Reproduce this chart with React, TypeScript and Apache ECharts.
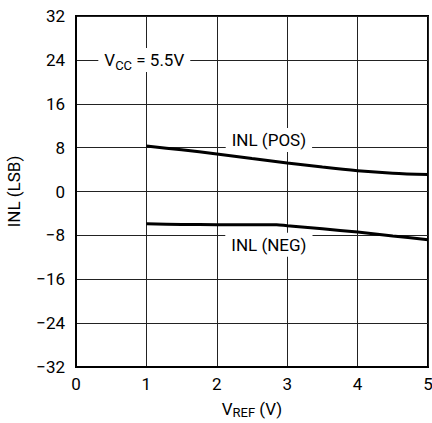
import React, { useEffect, useRef } from "react";
import * as echarts from "echarts";

const xTicks = [0, 1, 2, 3, 4, 5];
const yTicks = [-32, -24, -16, -8, 0, 8, 16, 24, 32];
const posX = [1, 1.5, 2, 2.5, 3, 3.5, 4, 4.5, 5];
const posY = [8.3, 7.6, 6.85, 6.0, 5.2, 4.45, 3.8, 3.35, 3.1];
const negX = [1, 1.5, 2, 2.5, 2.85, 3, 3.5, 4, 4.5, 5];
const negY = [-5.9, -6.0, -6.05, -6.05, -6.05, -6.25, -6.8, -7.4, -8.1, -8.8];
const labels = [
  { text: "{a|V}{s|CC}{a| = 5.5V}", x: 0.97, y: 24 },
  { text: "{a|INL (POS)}", x: 2.74, y: 9.4 },
  { text: "{a|INL (NEG)}", x: 2.74, y: -9.7 },
];

const FONT = "Roboto, 'Liberation Sans', Arial, sans-serif";
const FS = 17;

export default function App() {
  const ref = useRef<HTMLDivElement>(null);
  useEffect(() => {
    const chart = echarts.init(ref.current!, null, { renderer: "svg" });
    const textStyle = { fontFamily: FONT, fontSize: FS, color: "#000" };
    const richA = { fontFamily: FONT, fontSize: FS, verticalAlign: "middle", lineHeight: 24 };
    const richS = { fontFamily: FONT, fontSize: 13, verticalAlign: "bottom", lineHeight: 14 };
    chart.setOption({
      animation: false,
      backgroundColor: "#fff",
      grid: {
        left: 76,
        top: 16,
        width: 352,
        height: 351,
        show: true,
        borderColor: "#000",
        borderWidth: 2,
        backgroundColor: "transparent",
        containLabel: false,
        outerBoundsMode: "none",
      },
      xAxis: {
        type: "value",
        min: 0,
        max: 5,
        interval: 1,
        axisLine: { show: true, onZero: false, lineStyle: { color: "#000", width: 2 } },
        axisTick: { show: false },
        axisLabel: { ...textStyle, margin: 8, formatter: (v: number) => String(v) },
        splitLine: { show: true, lineStyle: { color: "#222", width: 1 } },
        name: "{a|V}{s|REF}{a| (V)}",
        nameLocation: "middle",
        nameGap: 31,
        nameTextStyle: {
          rich: {
            a: { ...richA, lineHeight: 21, color: "#000" },
            s: { ...richS, color: "#000" },
          },
        },
      },
      yAxis: {
        type: "value",
        min: -32,
        max: 32,
        interval: 8,
        axisLine: { show: true, onZero: false, lineStyle: { color: "#000", width: 2 } },
        axisTick: { show: false },
        axisLabel: {
          ...textStyle,
          margin: 11,
          formatter: (v: number) => (v < 0 ? "\u2212" + Math.abs(v) : String(v)),
        },
        splitLine: { show: true, lineStyle: { color: "#222", width: 1 } },
        name: "INL (LSB)",
        nameLocation: "middle",
        nameGap: 54,
        nameRotate: 90,
        nameTextStyle: { fontFamily: FONT, fontSize: FS, color: "#000" },
      },
      series: [
        {
          type: "line",
          data: posX.map((x, i) => [x, posY[i]]),
          smooth: 0.3,
          showSymbol: false,
          lineStyle: { color: "#000", width: 3 },
        },
        {
          type: "line",
          data: negX.map((x, i) => [x, negY[i]]),
          smooth: 0.3,
          showSymbol: false,
          lineStyle: { color: "#000", width: 3 },
        },
      ],
    });
    const graphic = labels.map((l) => {
      const [px, py] = chart.convertToPixel({ gridIndex: 0 }, [l.x, l.y]) as number[];
      return {
        type: "text",
        x: px,
        y: py,
        z: 100,
        style: {
          text: l.text,
          align: "center",
          verticalAlign: "middle",
          backgroundColor: "#fff",
          padding: [0, 6, 0, 6],
          rich: {
            a: { ...richA, fill: "#000" },
            s: { ...richS, fill: "#000" },
          },
        },
      };
    });
    chart.setOption({ graphic });
    return () => chart.dispose();
  }, []);
  return (
    <div
      ref={ref}
      style={{ position: "fixed", left: 0, top: 0, width: 432, height: 423 }}
    />
  );
}
